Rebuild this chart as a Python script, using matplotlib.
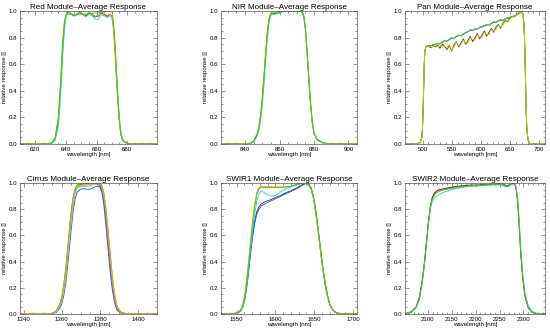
import matplotlib
matplotlib.use("Agg")
import matplotlib.pyplot as plt
from matplotlib.ticker import MultipleLocator, AutoMinorLocator

plt.rcParams['font.family'] = ['Liberation Sans', 'DejaVu Sans']

# ---------------- data ----------------
titles = ["Red Module\u2013Average Response", "NIR Module\u2013Average Response",
          "Pan Module\u2013Average Response", "Cirrus Module\u2013Average Response",
          "SWIR1 Module\u2013Average Response", "SWIR2 Module\u2013Average Response"]
xlims = [(610, 699.5), (826, 905), (470, 710), (1338, 1410), (1530, 1705), (2052, 2345)]
xmajor = [20, 20, 50, 20, 50, 50]

red_wl = [610, 628, 631, 633, 635, 636, 637, 638, 639, 640, 641, 643, 645, 647, 649, 651, 653, 655,
          657, 659, 661, 663, 665, 667, 669, 670, 671, 672, 673, 674, 675, 676, 677, 679, 682, 701]
red_dark = [0, 0, 0.01, 0.04, 0.17, 0.33, 0.53, 0.74, 0.89, 0.96, 0.99, 0.985, 0.965, 0.975, 0.99, 0.975,
            0.965, 0.985, 0.975, 0.955, 0.96, 0.985, 0.975, 0.96, 0.975, 0.96, 0.89, 0.73, 0.52, 0.32,
            0.16, 0.07, 0.03, 0.01, 0, 0]
red_cyan = [0, 0, 0.005, 0.03, 0.13, 0.27, 0.46, 0.68, 0.85, 0.95, 0.985, 0.98, 0.96, 0.97, 0.985, 0.97,
            0.955, 0.975, 0.965, 0.94, 0.935, 0.97, 0.965, 0.95, 0.965, 0.955, 0.9, 0.76, 0.56, 0.36,
            0.19, 0.09, 0.04, 0.01, 0, 0]
red_orange = [0.003, 0.003, 0.012, 0.05, 0.19, 0.36, 0.56, 0.77, 0.91, 0.97, 0.995, 0.985, 0.97, 0.98,
              0.995, 0.975, 0.97, 0.99, 0.98, 0.96, 0.965, 0.99, 0.98, 0.965, 0.975, 0.955, 0.87, 0.7,
              0.49, 0.29, 0.14, 0.06, 0.025, 0.008, 0.003, 0.003]
red_green = [0, 0, 0.012, 0.05, 0.2, 0.37, 0.58, 0.79, 0.92, 0.97, 0.975, 0.975, 0.975, 0.975, 0.976,
             0.977, 0.978, 0.98, 0.982, 0.985, 0.987, 0.99, 0.993, 0.996, 0.999, 1.0, 0.93, 0.77, 0.55,
             0.34, 0.17, 0.07, 0.03, 0.01, 0, 0]

nir_wl = [826, 840, 843, 845, 847, 848, 849, 850, 851, 852, 853, 854, 855, 857, 859, 861, 863, 866,
          869, 872, 873, 874, 875, 876, 877, 878, 879, 880, 882, 885, 888, 905]
nir_dark = [0, 0, 0.005, 0.02, 0.07, 0.12, 0.21, 0.34, 0.51, 0.69, 0.85, 0.945, 0.98, 0.98, 0.985, 0.993,
            1.0, 1.0, 1.0, 1.0, 0.993, 0.965, 0.87, 0.69, 0.49, 0.3, 0.16, 0.08, 0.03, 0.01, 0, 0]
nir_cyan = [0, 0, 0.004, 0.015, 0.06, 0.1, 0.17, 0.29, 0.45, 0.63, 0.8, 0.92, 0.97, 0.975, 0.98, 0.99,
            0.998, 1.0, 1.0, 1.0, 0.99, 0.96, 0.86, 0.68, 0.48, 0.3, 0.16, 0.08, 0.03, 0.01, 0, 0]
nir_orange = [0.003, 0.003, 0.006, 0.025, 0.08, 0.13, 0.22, 0.36, 0.53, 0.71, 0.86, 0.95, 0.985, 0.99,
              0.993, 0.997, 1.0, 1.0, 1.0, 1.0, 0.997, 0.975, 0.89, 0.71, 0.51, 0.32, 0.18, 0.09, 0.035,
              0.01, 0.003, 0.003]
nir_green = [0, 0, 0.005, 0.02, 0.07, 0.12, 0.2, 0.33, 0.5, 0.68, 0.84, 0.94, 0.98, 0.985, 0.99, 0.995,
             1.0, 1.0, 1.0, 1.0, 0.995, 0.97, 0.88, 0.7, 0.5, 0.31, 0.17, 0.08, 0.03, 0.01, 0, 0]

pan_wl = [470, 490, 496, 499, 500, 501, 502, 503, 504,
          506, 510, 514, 518, 522, 526, 530, 534, 538, 542, 546, 550, 554, 558, 562, 566, 570, 574,
          578, 582, 586, 590, 594, 598, 602, 606, 610, 614, 618, 622, 626, 630, 634, 638, 642, 646,
          650, 654, 658, 662, 666, 670,
          672, 674, 675, 676, 677, 678, 679, 681, 684, 690, 710]
pan_rise = [0, 0, 0.01, 0.05, 0.12, 0.25, 0.42, 0.6, 0.7]
pan_fall = [0.98, 0.9, 0.78, 0.6, 0.4, 0.22, 0.1, 0.03, 0.005, 0, 0]
pan_dark = pan_rise + [0.73, 0.735, 0.725, 0.74, 0.73, 0.745, 0.72, 0.75, 0.735, 0.71, 0.74, 0.7, 0.745,
                       0.77, 0.73, 0.76, 0.79, 0.75, 0.78, 0.81, 0.77, 0.8, 0.83, 0.79, 0.82, 0.85, 0.81,
                       0.84, 0.87, 0.84, 0.88, 0.9, 0.87, 0.91, 0.93, 0.92, 0.95, 0.96, 0.96, 0.98,
                       0.99, 1.0] + pan_fall
pan_blue = pan_rise + [0.735, 0.74, 0.74, 0.745, 0.75, 0.755, 0.755, 0.765, 0.775, 0.775, 0.785, 0.795,
                       0.795, 0.805, 0.815, 0.815, 0.825, 0.835, 0.845, 0.855, 0.855, 0.865, 0.865,
                       0.875, 0.88, 0.885, 0.895, 0.895, 0.905, 0.915, 0.915, 0.925, 0.93, 0.93, 0.94,
                       0.945, 0.95, 0.955, 0.965, 0.97, 0.98, 0.995] + pan_fall
pan_green = pan_rise + [0.73, 0.74, 0.735, 0.75, 0.745, 0.76, 0.75, 0.77, 0.78, 0.77, 0.79, 0.8, 0.79,
                        0.81, 0.82, 0.81, 0.83, 0.84, 0.845, 0.86, 0.855, 0.87, 0.865, 0.88, 0.885, 0.89,
                        0.9, 0.895, 0.91, 0.92, 0.915, 0.93, 0.935, 0.93, 0.945, 0.95, 0.955, 0.96,
                        0.965, 0.975, 0.985, 1.0] + pan_fall
pan_yellow = pan_rise + [0.73, 0.73, 0.735, 0.73, 0.74, 0.735, 0.745, 0.725, 0.74, 0.72, 0.75, 0.705,
                         0.73, 0.765, 0.74, 0.745, 0.78, 0.765, 0.76, 0.8, 0.785, 0.78, 0.82, 0.805, 0.8,
                         0.84, 0.825, 0.82, 0.86, 0.85, 0.86, 0.895, 0.88, 0.895, 0.925, 0.915, 0.94,
                         0.955, 0.955, 0.975, 0.985, 1.0] + pan_fall

cir_wl = [1338, 1352, 1355, 1357, 1359, 1360, 1361, 1362, 1363, 1364, 1365, 1366, 1367, 1368, 1370,
          1372, 1374, 1376, 1378, 1380, 1381, 1382, 1383, 1384, 1385, 1386, 1387, 1388, 1389, 1391,
          1394, 1410]
cir_dark = [0, 0, 0.005, 0.02, 0.07, 0.12, 0.2, 0.31, 0.46, 0.62, 0.77, 0.88, 0.95, 0.98, 0.99, 0.995,
            1.0, 1.0, 0.995, 0.98, 0.95, 0.88, 0.76, 0.61, 0.45, 0.3, 0.18, 0.09, 0.04, 0.01, 0, 0]
cir_blue = [0, 0, 0.003, 0.012, 0.045, 0.08, 0.14, 0.23, 0.36, 0.51, 0.66, 0.79, 0.88, 0.93, 0.955,
            0.955, 0.95, 0.96, 0.975, 0.97, 0.93, 0.84, 0.7, 0.54, 0.38, 0.24, 0.14, 0.07, 0.03, 0.008,
            0, 0]
cir_cyan = [0, 0, 0.004, 0.015, 0.055, 0.1, 0.17, 0.27, 0.41, 0.57, 0.72, 0.84, 0.92, 0.96, 0.975,
            0.975, 0.975, 0.985, 0.995, 0.99, 0.965, 0.9, 0.8, 0.66, 0.5, 0.35, 0.22, 0.12, 0.06, 0.015,
            0.002, 0]
cir_green = [0, 0, 0.006, 0.025, 0.08, 0.14, 0.23, 0.35, 0.5, 0.66, 0.8, 0.9, 0.96, 0.985, 0.995, 1.0,
             1.0, 1.0, 1.0, 1.0, 0.985, 0.93, 0.83, 0.69, 0.53, 0.37, 0.23, 0.13, 0.06, 0.015, 0.002, 0]
cir_yellow = [0, 0, 0.005, 0.02, 0.065, 0.11, 0.19, 0.3, 0.44, 0.6, 0.75, 0.87, 0.94, 0.97, 0.98, 0.98,
              0.985, 0.99, 0.995, 0.995, 0.975, 0.92, 0.82, 0.68, 0.52, 0.36, 0.22, 0.12, 0.055, 0.014,
              0.002, 0]
cir_orange = [0.003, 0.003, 0.006, 0.022, 0.075, 0.13, 0.21, 0.33, 0.48, 0.64, 0.78, 0.89, 0.95, 0.975,
              0.985, 0.99, 0.99, 0.995, 1.0, 0.995, 0.97, 0.91, 0.8, 0.65, 0.49, 0.33, 0.2, 0.1, 0.045,
              0.012, 0.003, 0.003]

s1_wl = [1530, 1545, 1550, 1555, 1558, 1561, 1564, 1567, 1570, 1573, 1576, 1579, 1582, 1586, 1590,
         1595, 1600, 1605, 1610, 1615, 1620, 1625, 1630, 1634, 1637, 1640, 1643, 1646, 1649, 1652,
         1655, 1658, 1661, 1664, 1667, 1670, 1675, 1680, 1705]
s1_dark = [0, 0, 0.007, 0.022, 0.055, 0.13, 0.26, 0.42, 0.58, 0.7, 0.78, 0.82, 0.84, 0.855, 0.865, 0.875,
           0.89, 0.9, 0.915, 0.93, 0.94, 0.955, 0.97, 0.985, 0.995, 1.0, 0.99, 0.96, 0.89, 0.78, 0.64,
           0.49, 0.35, 0.23, 0.14, 0.07, 0.02, 0.005, 0]
s1_blue = [0, 0, 0.006, 0.02, 0.05, 0.12, 0.24, 0.4, 0.56, 0.68, 0.76, 0.8, 0.825, 0.84, 0.852, 0.865,
           0.88, 0.892, 0.908, 0.922, 0.935, 0.95, 0.965, 0.98, 0.99, 0.998, 0.99, 0.96, 0.89, 0.78,
           0.64, 0.49, 0.35, 0.23, 0.14, 0.07, 0.02, 0.005, 0]
s1_cyan = [0, 0, 0.007, 0.022, 0.055, 0.13, 0.26, 0.43, 0.6, 0.75, 0.86, 0.92, 0.94, 0.925, 0.91, 0.9,
           0.905, 0.925, 0.945, 0.96, 0.97, 0.98, 0.99, 0.998, 1.0, 0.995, 0.98, 0.95, 0.88, 0.77, 0.63,
           0.48, 0.34, 0.22, 0.13, 0.07, 0.02, 0.005, 0]
s1_orange = [0.003, 0.003, 0.01, 0.03, 0.07, 0.17, 0.32, 0.5, 0.68, 0.83, 0.93, 0.965, 0.975, 0.975,
             0.975, 0.972, 0.97, 0.97, 0.97, 0.972, 0.975, 0.985, 0.995, 1.0, 1.0, 0.995, 0.98, 0.95,
             0.88, 0.77, 0.63, 0.48, 0.34, 0.22, 0.13, 0.07, 0.02, 0.005, 0.003]
s1_green = [0, 0, 0.008, 0.025, 0.06, 0.15, 0.29, 0.47, 0.65, 0.8, 0.91, 0.955, 0.965, 0.965, 0.965,
            0.965, 0.965, 0.966, 0.968, 0.97, 0.975, 0.985, 0.995, 1.0, 1.0, 0.998, 0.985, 0.96, 0.9, 0.8,
            0.66, 0.51, 0.37, 0.25, 0.15, 0.08, 0.025, 0.006, 0]

s2_wl = [2045, 2055, 2065, 2075, 2082, 2088, 2093, 2097, 2101, 2105, 2109, 2114, 2120, 2130, 2145,
         2160, 2175, 2190, 2205, 2220, 2235, 2250, 2258, 2264, 2270, 2275, 2279, 2282, 2285, 2288,
         2291, 2294, 2298, 2303, 2310, 2318, 2328, 2345]
s2_purple = [0, 0.006, 0.018, 0.055, 0.13, 0.26, 0.41, 0.56, 0.71, 0.82, 0.885, 0.92, 0.94, 0.95, 0.96,
             0.97, 0.976, 0.98, 0.982, 0.986, 0.988, 0.99, 0.985, 0.975, 0.98, 0.99, 0.995, 0.985,
             0.945, 0.84, 0.67, 0.47, 0.28, 0.13, 0.045, 0.012, 0.002, 0]
s2_red = [0, 0.005, 0.015, 0.05, 0.12, 0.25, 0.4, 0.55, 0.7, 0.82, 0.89, 0.925, 0.945, 0.955, 0.965,
          0.975, 0.98, 0.985, 0.985, 0.99, 0.99, 0.995, 0.99, 0.98, 0.985, 0.995, 1.0, 0.99, 0.95, 0.85,
          0.68, 0.48, 0.29, 0.14, 0.05, 0.015, 0.003, 0]
s2_cyan = [0, 0.004, 0.012, 0.045, 0.11, 0.23, 0.38, 0.53, 0.68, 0.8, 0.86, 0.89, 0.905, 0.925, 0.945,
           0.958, 0.968, 0.975, 0.978, 0.982, 0.985, 0.985, 0.98, 0.97, 0.975, 0.99, 1.0, 0.995, 0.965,
           0.88, 0.72, 0.52, 0.32, 0.16, 0.06, 0.018, 0.004, 0]
s2_green = [0, 0.004, 0.013, 0.048, 0.115, 0.24, 0.39, 0.54, 0.69, 0.81, 0.875, 0.91, 0.93, 0.945, 0.955,
            0.965, 0.972, 0.978, 0.98, 0.985, 0.988, 0.99, 0.985, 0.975, 0.98, 0.995, 1.0, 0.99, 0.955,
            0.86, 0.7, 0.5, 0.31, 0.15, 0.055, 0.016, 0.003, 0]

C = {"dark": "#3a3a3a", "blue": "#3050ff", "cyan": "#20d8d8", "green": "#3ad400",
     "yellow": "#e6c000", "orange": "#f0903a", "red": "#8a2a20", "purple": "#b050d0"}

panels = [
    (red_wl, [("dark", red_dark), ("cyan", red_cyan), ("orange", red_orange), ("green", red_green)]),
    (nir_wl, [("dark", nir_dark), ("cyan", nir_cyan), ("orange", nir_orange), ("green", nir_green)]),
    (pan_wl, [("dark", pan_dark), ("blue", pan_blue), ("green", pan_green), ("yellow", pan_yellow)]),
    (cir_wl, [("dark", cir_dark), ("blue", cir_blue), ("cyan", cir_cyan), ("green", cir_green),
              ("yellow", cir_yellow), ("orange", cir_orange)]),
    (s1_wl, [("dark", s1_dark), ("blue", s1_blue), ("cyan", s1_cyan), ("orange", s1_orange),
             ("green", s1_green)]),
    (s2_wl, [("purple", s2_purple), ("red", s2_red), ("cyan", s2_cyan), ("green", s2_green)]),
]

# ---------------- figure ----------------
W, H = 550, 332
fig = plt.figure(figsize=(W / 100, H / 100), dpi=100)
cols = [(20, 157), (221, 357), (405, 545)]
rows = [(11, 144), (183, 314)]

for i, (wl, series) in enumerate(panels):
    r, c = divmod(i, 3)
    x0, x1 = cols[c]
    y0, y1 = rows[r]
    ax = fig.add_axes([x0 / W, 1 - y1 / H, (x1 - x0) / W, (y1 - y0) / H])
    for name, vals in series:
        ax.plot(wl, vals, color=C[name], lw=0.65)
    ax.set_xlim(*xlims[i])
    ax.set_ylim(0, 1.0)
    ax.xaxis.set_major_locator(MultipleLocator(xmajor[i]))
    ax.xaxis.set_minor_locator(AutoMinorLocator(4 if xmajor[i] == 20 else 5))
    ax.yaxis.set_major_locator(MultipleLocator(0.2))
    ax.yaxis.set_minor_locator(AutoMinorLocator(4))
    ax.yaxis.set_major_formatter(plt.FormatStrFormatter('%.1f'))
    ax.tick_params(which='both', direction='in', top=True, right=True, labelsize=4.4,
                   width=0.4, color='#444444', pad=2)
    ax.tick_params(which='major', length=3)
    ax.tick_params(which='minor', length=1.5)
    for s in ax.spines.values():
        s.set_linewidth(0.5)
        s.set_color('#555555')
    ax.set_title(titles[i], fontsize=5.8, pad=1.5)
    ax.set_xlabel("wavelength [nm]", fontsize=4.4, labelpad=0.5)
    ax.set_ylabel("relative response []", fontsize=4.4, labelpad=1.5)

fig.savefig("out.png", dpi=100)
